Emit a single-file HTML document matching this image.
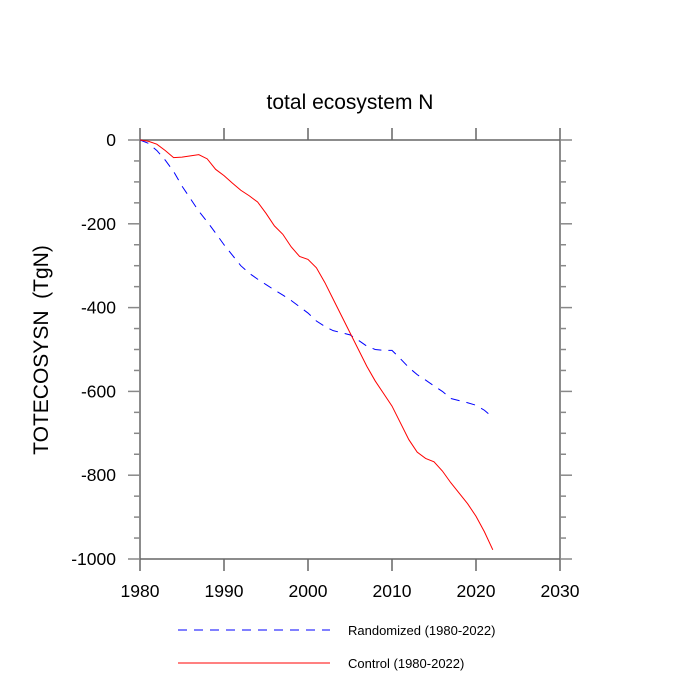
<!DOCTYPE html>
<html><head><meta charset="utf-8"><style>body{margin:0;background:#fff}svg{display:block}text{font-family:"Liberation Sans",sans-serif}</style></head>
<body>
<svg id="chart" width="700" height="700">
<g id="axes"></g><g id="series"></g>
<text x="350" y="109" font-size="21" text-anchor="middle">total ecosystem N</text>
<text transform="translate(48,350) rotate(-90)" font-size="21" text-anchor="middle" style="white-space:pre">TOTECOSYSN  (TgN)</text>
<g>
<line x1="178" y1="630" x2="330" y2="630" stroke="#00f" stroke-width="1" stroke-dasharray="9,7"/>
<text x="348" y="635" font-size="13">Randomized (1980-2022)</text>
<line x1="178" y1="663" x2="330" y2="663" stroke="#f00" stroke-width="1"/>
<text x="348" y="668" font-size="13">Control (1980-2022)</text>
</g>
</svg>
<script>
const years=[1980,1981,1982,1983,1984,1985,1986,1987,1988,1989,1990,1991,1992,1993,1994,1995,1996,1997,1998,1999,2000,2001,2002,2003,2004,2005,2006,2007,2008,2009,2010,2011,2012,2013,2014,2015,2016,2017,2018,2019,2020,2021,2022];
const control=[0,-3,-10,-25,-42,-41,-38,-35,-45,-70,-85,-103,-120,-133,-148,-175,-205,-225,-255,-278,-285,-305,-340,-380,-420,-460,-500,-540,-575,-605,-635,-675,-715,-745,-760,-768,-790,-818,-843,-868,-898,-935,-978];
const randomized=[0,-8,-25,-48,-75,-110,-140,-170,-195,-222,-250,-275,-300,-318,-332,-345,-358,-370,-383,-398,-413,-432,-445,-455,-460,-465,-478,-492,-500,-502,-502,-522,-543,-560,-573,-587,-600,-617,-622,-627,-633,-645,-662];
const xTicks=[1980,1990,2000,2010,2020,2030];
const yTicks=[0,-200,-400,-600,-800,-1000];
const NS='http://www.w3.org/2000/svg';
const L=140,R=560,T=140,B=559;
const sx=v=>L+(v-1980)*(R-L)/50;
const sy=v=>T+(0-v)*(B-T)/1000;
function mk(tag,attrs,parent){const e=document.createElementNS(NS,tag);for(const k in attrs)e.setAttribute(k,attrs[k]);parent.appendChild(e);return e;}
const ax=document.getElementById('axes');
const frame=mk('rect',{x:L,y:T,width:R-L,height:B-T,fill:'none',stroke:'#666',"stroke-width":1.5},ax);


for(const t of xTicks){const x=sx(t);
 mk('line',{x1:x,y1:B,x2:x,y2:B+12,stroke:'#666',"stroke-width":1.5},ax);
 mk('line',{x1:x,y1:T,x2:x,y2:T-12,stroke:'#666',"stroke-width":1.5},ax);
 const tx=mk('text',{x:x,y:B+38,"font-size":17.5,"text-anchor":"middle"},ax);tx.textContent=t;
 
 }
for(let v=0;v>=-1000;v-=50){const y=sy(v);const major=v%200===0;const len=major?12:6;
 mk('line',{x1:L,y1:y,x2:L-len,y2:y,stroke:'#888',"stroke-width":1.5},ax);
 mk('line',{x1:R,y1:y,x2:R+len,y2:y,stroke:'#888',"stroke-width":1.5},ax);}
for(const t of yTicks){const tx=mk('text',{x:116,y:sy(t)+6,"font-size":17.5,"text-anchor":"end"},ax);tx.textContent=t;
 
 }
const se=document.getElementById('series');
const pts=a=>a.map((v,i)=>sx(years[i])+','+sy(v)).join(' ');
const r=mk('polyline',{points:pts(randomized),fill:'none',stroke:'#00f',"stroke-width":1,"stroke-dasharray":"9,7"},se);


const c=mk('polyline',{points:pts(control),fill:'none',stroke:'#f00',"stroke-width":1},se);


</script>
</body></html>
